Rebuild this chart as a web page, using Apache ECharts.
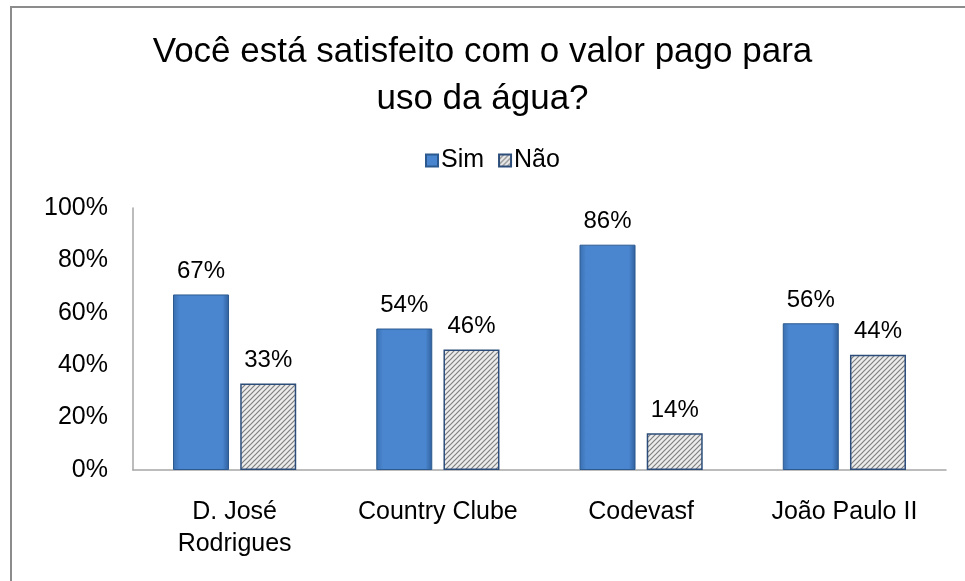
<!DOCTYPE html>
<html><head><meta charset="utf-8">
<script src="https://cdn.jsdelivr.net/npm/echarts@6/dist/echarts.min.js"></script>
<style>html,body{margin:0;padding:0;background:#fff}#c{width:965px;height:581px}</style>
</head><body><div id="c"></div>
<script>
const categories = ['D. José\nRodrigues', 'Country Clube', 'Codevasf', 'João Paulo II'];
const simValues = [67, 54, 86, 56];
const naoValues = [33, 46, 14, 44];
const seriesNames = ['Sim', 'Não'];

function hatch() {
  const c = document.createElement('canvas');
  c.width = 5; c.height = 5;
  const g = c.getContext('2d');
  g.fillStyle = '#ececec'; g.fillRect(0, 0, 5, 5);
  g.strokeStyle = '#808080'; g.lineWidth = 1.2;
  g.beginPath();
  g.moveTo(-1, 6); g.lineTo(6, -1);
  g.moveTo(-3, 3); g.lineTo(3, -3);
  g.moveTo(2, 8); g.lineTo(8, 2);
  g.stroke();
  return c;
}
const chart = echarts.init(document.getElementById('c'));
const blue = {type:'linear', x:0, y:0, x2:1, y2:0, colorStops:[
  {offset:0, color:'#3a6fb0'},{offset:0.12, color:'#4a86cf'},{offset:0.88, color:'#4a86cf'},{offset:1, color:'#2f5f9c'}]};
const font = 'Liberation Sans';
chart.setOption({
  animation:false,
  graphic:[{type:'rect', shape:{x:11, y:7, width:970, height:600}, style:{fill:'none', stroke:'#8c8c8c', lineWidth:2}}],
  title:{text:'Você está satisfeito com o valor pago para\nuso da água?', left:'center', top:24,
    textStyle:{fontFamily:font, fontSize:35, fontWeight:'normal', color:'#000', lineHeight:47}},
  legend:{top:143, left:420, itemWidth:12, itemHeight:12, itemGap:14,
    textStyle:{fontFamily:font, fontSize:25, color:'#000', padding:[0,0,0,-2]},
    data:[{name:seriesNames[0], icon:'rect'},{name:seriesNames[1], icon:'rect'}]},
  grid:{left:133, right:19, top:208, bottom:111},
  xAxis:{type:'category', data:categories,
    axisLine:{lineStyle:{color:'#a6a6a6', width:1.5}}, axisTick:{show:false},
    axisLabel:{interval:0, fontFamily:font, fontSize:25, color:'#000', margin:26, lineHeight:32}},
  yAxis:{type:'value', min:0, max:100, interval:20,
    axisLine:{show:true, lineStyle:{color:'#a6a6a6', width:1.5}}, axisTick:{show:false},
    splitLine:{show:false},
    axisLabel:{formatter:'{value}%', fontFamily:font, fontSize:25, color:'#000', margin:25}},
  series:[
    {name:seriesNames[0], type:'bar', data:simValues, barWidth:56, barGap:'20%',
      itemStyle:{color:blue, borderColor:'#2c5a90', borderWidth:1},
      label:{show:true, position:'top', formatter:'{c}%', distance:11, fontFamily:font, fontSize:24, color:'#000'}},
    {name:seriesNames[1], type:'bar', data:naoValues, barWidth:56,
      itemStyle:{color:{image:hatch(), repeat:'repeat'}, borderColor:'#2c4d7a', borderWidth:1.5},
      label:{show:true, position:'top', formatter:'{c}%', distance:11, fontFamily:font, fontSize:24, color:'#000'}}
  ]
});
</script></body></html>
